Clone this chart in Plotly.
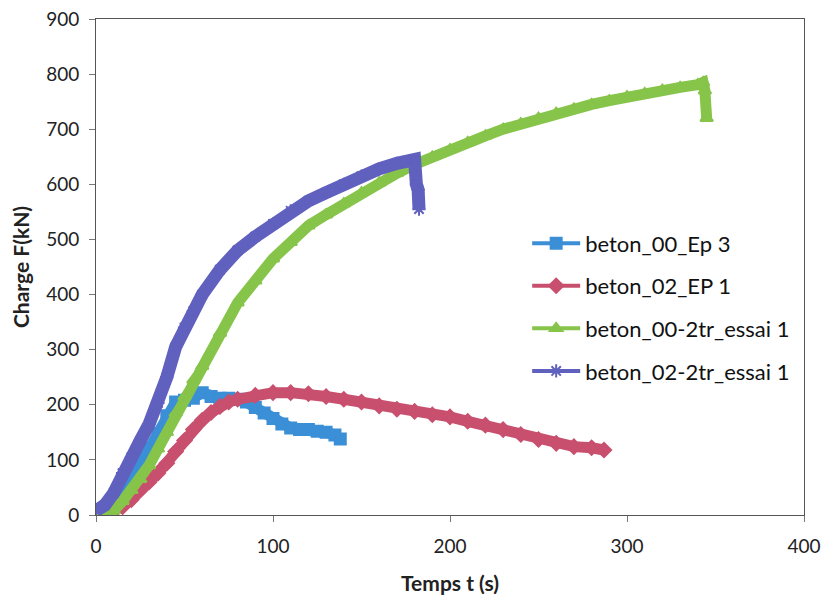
import plotly.graph_objects as go

# beton_00_Ep 3
t_blue = [0, 5, 10, 15, 20, 25, 30, 35, 40, 45, 50, 55, 60, 65, 70, 75, 80, 85, 90, 95, 100, 105, 110, 115, 120, 125, 130, 135, 138]
f_blue = [8, 12, 28, 50, 72, 94, 120, 148, 180, 205, 208, 212, 222, 215, 212, 212, 210, 205, 195, 185, 175, 165, 158, 155, 155, 152, 150, 145, 138]

# beton_02_EP 1
t_red = [8, 15, 20, 25, 30, 35, 40, 45, 50, 55, 60, 65, 70, 75, 80, 90, 100, 110, 120, 130, 140, 150, 160, 170, 180, 190, 200, 210, 220, 230, 240, 250, 260, 270, 280, 287]
f_red = [2, 15, 28, 45, 60, 76, 94, 115, 135, 155, 172, 186, 197, 205, 210, 217, 222, 222, 220, 215, 210, 205, 198, 192, 188, 182, 178, 170, 163, 155, 146, 137, 130, 124, 122, 118]

# beton_00-2tr_essai 1
t_green = [0, 5, 10, 15, 20, 25, 30, 35, 40, 45, 50, 55, 60, 70, 80, 90, 100, 110, 120, 130, 140, 150, 160, 170, 180, 190, 200, 210, 220, 230, 240, 250, 260, 270, 280, 290, 300, 310, 320, 330, 340, 343, 344, 345]
f_green = [0, 3, 8, 25, 45, 65, 90, 120, 150, 185, 215, 245, 270, 330, 385, 425, 465, 495, 525, 545, 565, 585, 603, 620, 636, 650, 663, 676, 688, 700, 710, 720, 729, 737, 745, 752, 759, 765, 771, 776, 781, 785, 770, 720]

# beton_02-2tr_essai 1
t_purple = [0, 5, 10, 15, 20, 25, 30, 35, 40, 45, 50, 55, 60, 70, 80, 90, 100, 110, 120, 130, 140, 150, 160, 170, 180, 181, 182, 182.5]
f_purple = [8, 18, 40, 76, 105, 135, 165, 203, 250, 305, 340, 370, 400, 445, 480, 505, 528, 552, 570, 585, 600, 615, 628, 638, 645, 600, 590, 555]

series = [
    ("beton_00_Ep 3", t_blue, f_blue, "#3a8fd6", "square", 11),
    ("beton_02_EP 1", t_red, f_red, "#c8506e", "diamond", 11),
    ("beton_00-2tr_essai 1", t_green, f_green, "#86c44a", "triangle-up", 11),
    ("beton_02-2tr_essai 1", t_purple, f_purple, "#6060bf", "asterisk-open", 13),
]

fig = go.Figure()
for name, t, f, col, sym, bw in series:
    # thick band (dense markers in original)
    fig.add_trace(go.Scatter(x=t, y=f, mode="lines", line=dict(color=col, width=bw),
                             showlegend=False, hoverinfo="skip"))
    fig.add_trace(go.Scatter(x=t, y=f, mode="lines+markers", name=name, legendgroup=name,
                             line=dict(color=col, width=4),
                             marker=dict(symbol=sym, size=11, color=col,
                                         line=dict(color=col, width=2))))

fig.update_layout(
    width=823, height=600,
    paper_bgcolor="white", plot_bgcolor="white",
    margin=dict(l=96, r=19, t=19, b=85),
    font=dict(family="Lato, Liberation Sans, sans-serif", size=19, color="#222"),
    legend=dict(x=0.609, y=0.59, xanchor="left", yanchor="top",
                font=dict(size=22, color="#111"), bgcolor="rgba(0,0,0,0)",
                tracegroupgap=11, traceorder="grouped", itemwidth=48),
)
fig.update_xaxes(range=[0, 400], tickvals=[0, 100, 200, 300, 400], showgrid=False, zeroline=False,
                 showline=True, linecolor="#555", linewidth=1, mirror=True, automargin=False,
                 ticks="outside", ticklen=6, tickcolor="#777", ticklabelstandoff=8,
                 ticklabeloverflow="allow",
                 title=dict(text="<b>Temps t (s)</b>", font=dict(size=21), standoff=20))
fig.update_yaxes(range=[0, 900], tickvals=list(range(0, 901, 100)), showgrid=False, zeroline=False,
                 showline=True, linecolor="#555", linewidth=1, mirror=True, automargin=False,
                 ticks="outside", ticklen=6, tickcolor="#777", ticklabelstandoff=6,
                 ticklabeloverflow="allow",
                 title=dict(text="<b>Charge F(kN)</b>", font=dict(size=21), standoff=10))

fig.write_html("out.html", config={"displayModeBar": False},
               post_script="document.body.style.margin='0';document.body.style.overflow='hidden';")
